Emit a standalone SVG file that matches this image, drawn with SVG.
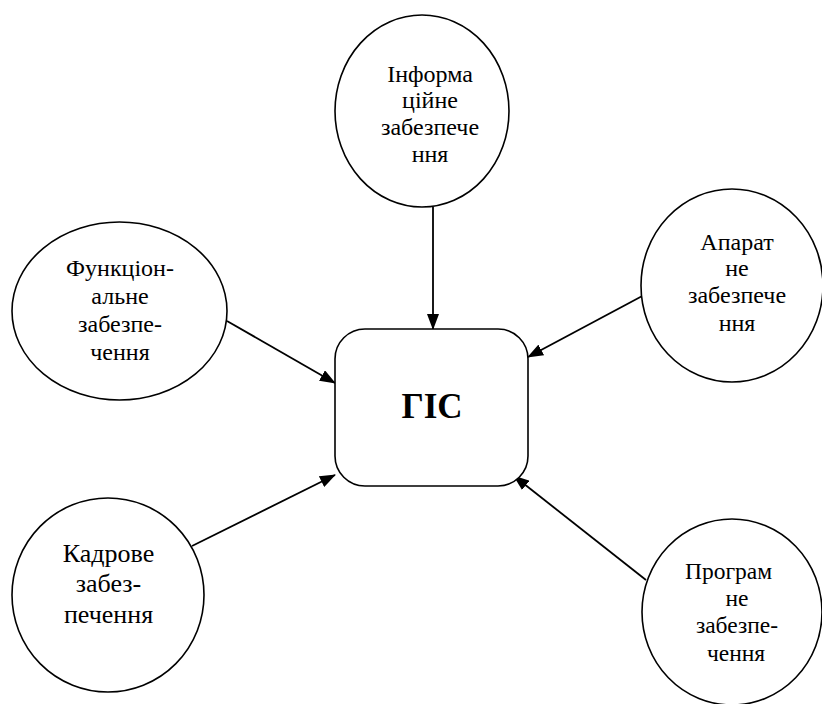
<svg xmlns="http://www.w3.org/2000/svg" width="822" height="704" viewBox="0 0 822 704">
<defs>
<marker id="arr" markerUnits="userSpaceOnUse" markerWidth="16" markerHeight="12" refX="15" refY="6" orient="auto">
<path d="M0,0 L16,6 L0,12 Z" fill="#000"/>
</marker>
<style>
.n{fill:#fff;stroke:#000;stroke-width:1.6}
.t{font-family:'Liberation Serif','Times New Roman',serif;font-size:24px;fill:#000;text-anchor:middle}
.b{font-family:'Liberation Serif','Times New Roman',serif;font-size:35px;font-weight:bold;fill:#000;text-anchor:middle}
.c{stroke:#000;stroke-width:1.8;fill:none;marker-end:url(#arr)}
</style>
</defs>
<rect width="822" height="704" fill="#fff"/>
<g id="connectors">
<line class="c" x1="433" y1="207" x2="433" y2="329"/>
<line class="c" x1="227" y1="321" x2="335" y2="383"/>
<line class="c" x1="646" y1="294" x2="528" y2="357"/>
<line class="c" x1="192" y1="546" x2="335" y2="475"/>
<line class="c" x1="646" y1="580" x2="514" y2="476"/>
</g>
<g id="gis">
<rect class="n" x="335" y="329" width="193" height="157" rx="30" ry="30"/>
<text class="b" x="432" y="418">ГІС</text>
</g>
<g id="info">
<ellipse class="n" cx="422" cy="111" rx="87" ry="96"/>
<text class="t" x="430" y="82">Інформа</text>
<text class="t" x="430" y="108">ційне</text>
<text class="t" x="430" y="135">забезпече</text>
<text class="t" x="430" y="162">ння</text>
</g>
<g id="func">
<ellipse class="n" cx="119.5" cy="311" rx="107.5" ry="89"/>
<text class="t" x="120" y="276" font-size="23.5">Функціон-</text>
<text class="t" x="120" y="304" font-size="23.5">альне</text>
<text class="t" x="120" y="332" font-size="23.5">забезпе-</text>
<text class="t" x="120" y="360" font-size="23.5">чення</text>
</g>
<g id="hard">
<ellipse class="n" cx="732" cy="285.5" rx="91" ry="96.5"/>
<text class="t" x="737" y="250">Апарат</text>
<text class="t" x="737" y="276">не</text>
<text class="t" x="737" y="303">забезпече</text>
<text class="t" x="737" y="331">ння</text>
</g>
<g id="staff">
<ellipse class="n" cx="108" cy="595" rx="96" ry="97"/>
<text class="t" x="108.5" y="562" style="font-size:26px">Кадрове</text>
<text class="t" x="108.5" y="592" style="font-size:26px">забез-</text>
<text class="t" x="108.5" y="623" style="font-size:26px">печення</text>
</g>
<g id="soft">
<ellipse class="n" cx="732" cy="612" rx="90" ry="93"/>
<text class="t" x="728.5" y="579" style="font-size:23.5px">Програм</text>
<text class="t" x="737" y="606" style="font-size:23.5px">не</text>
<text class="t" x="737" y="633" style="font-size:23.5px">забезпе-</text>
<text class="t" x="736" y="661" style="font-size:23.5px">чення</text>
</g>
</svg>
